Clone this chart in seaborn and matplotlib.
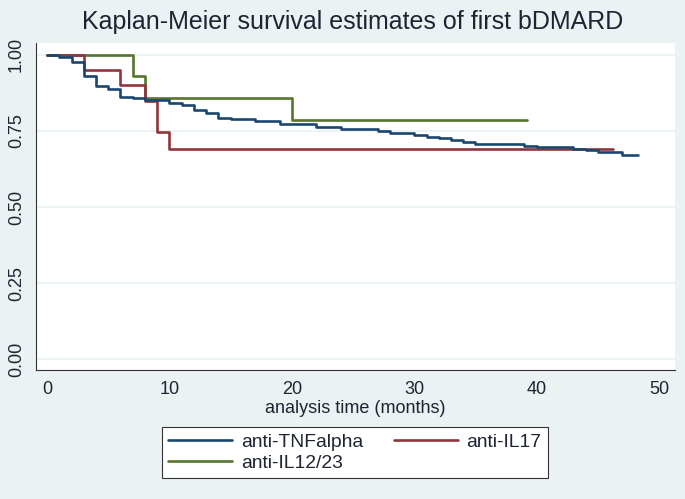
import numpy as np
import pandas as pd
import matplotlib
matplotlib.use("Agg")
import matplotlib.pyplot as plt
import seaborn as sns

# Kaplan-Meier step values (time in months, survival)
tnf_time = [0, 1, 2, 3, 4, 5, 6, 7, 8, 10, 11, 12, 13, 14, 15, 17, 19, 22, 24,
            27, 28, 30, 31, 32, 33, 34, 35, 39, 40, 43, 44, 45, 47, 48.3]
tnf_surv = [1.0, 0.992, 0.976, 0.929, 0.898, 0.888, 0.863, 0.857, 0.852, 0.841,
            0.836, 0.818, 0.808, 0.794, 0.788, 0.783, 0.772, 0.764, 0.757,
            0.750, 0.743, 0.738, 0.731, 0.726, 0.720, 0.713, 0.706, 0.701,
            0.696, 0.692, 0.686, 0.680, 0.672, 0.672]

il17_time = [0, 3, 6, 8, 9, 10, 46.2]
il17_surv = [1.0, 0.95, 0.90, 0.85, 0.745, 0.692, 0.692]

il1223_time = [0, 7, 8, 20, 39.2]
il1223_surv = [1.0, 0.929, 0.857, 0.786, 0.786]

groups = ["anti-TNFalpha", "anti-IL17", "anti-IL12/23"]
colors = ["#1a476f", "#90353b", "#55752f"]

x_ticks = [0, 10, 20, 30, 40, 50]
y_ticks = [0.0, 0.25, 0.5, 0.75, 1.0]
y_labels = ["0.00", "0.25", "0.50", "0.75", "1.00"]

df = pd.concat([
    pd.DataFrame({"time": tnf_time, "surv": tnf_surv, "group": groups[0]}),
    pd.DataFrame({"time": il17_time, "surv": il17_surv, "group": groups[1]}),
    pd.DataFrame({"time": il1223_time, "surv": il1223_surv, "group": groups[2]}),
], ignore_index=True)

sns.set_style("white")
plt.rcParams["font.family"] = ["Liberation Sans", "DejaVu Sans"]
bg = "#eaf2f3"
txt = "#1f2433"

fig = plt.figure(figsize=(6.85, 4.99), dpi=100, facecolor=bg)
ax = fig.add_axes([0.0526, 0.2585, 0.9328, 0.6553])
ax.set_facecolor("white")

for y in y_ticks:
    ax.axhline(y, color=bg, lw=1.3, zorder=0)

# draw in reverse so the blue sits on top like the original
for g, c in list(zip(groups, colors))[::-1]:
    sub = df[df["group"] == g]
    sns.lineplot(data=sub, x="time", y="surv", ax=ax, color=c, lw=1.9,
                 drawstyle="steps-post", label=g, legend=False,
                 estimator=None, sort=False)

ax.set_xlim(-0.9, 51.3)
ax.set_ylim(-0.036, 1.039)
ax.set_xticks(x_ticks)
ax.set_yticks(y_ticks)
ax.set_yticklabels(y_labels, rotation=90, va="center")
ax.tick_params(axis="both", direction="out", length=5, width=0.8,
               colors="#333333", labelcolor=txt, labelsize=13, pad=3)

for s in ["top", "right"]:
    ax.spines[s].set_visible(False)
for s in ["left", "bottom"]:
    ax.spines[s].set_color("#333333")
    ax.spines[s].set_linewidth(0.8)

ax.set_xlabel("analysis time (months)", fontsize=13, color=txt, labelpad=1)
ax.set_ylabel("")
fig.text(0.515, 0.955, "Kaplan-Meier survival estimates of first bDMARD",
         ha="center", va="center", fontsize=18, color=txt)

# legend: row 1 = TNF, IL17; row 2 = IL12/23 (matplotlib fills by column)
order = [0, 2, 1]
handles = [plt.Line2D([], [], color=colors[i], lw=1.9) for i in order]
labels = [groups[i] for i in order]
leg = fig.legend(handles, labels, loc="center", bbox_to_anchor=(0.518, 0.093),
                 ncol=2, frameon=True, fancybox=False, fontsize=13.9,
                 handlelength=3.3, columnspacing=1.6, borderpad=0.35,
                 labelspacing=0.15, handletextpad=0.45, borderaxespad=0,
                 framealpha=1, facecolor="white")
leg.get_frame().set_edgecolor("#333333")
leg.get_frame().set_linewidth(0.8)
for t in leg.get_texts():
    t.set_color(txt)

fig.savefig("out.png", dpi=100, facecolor=bg)
